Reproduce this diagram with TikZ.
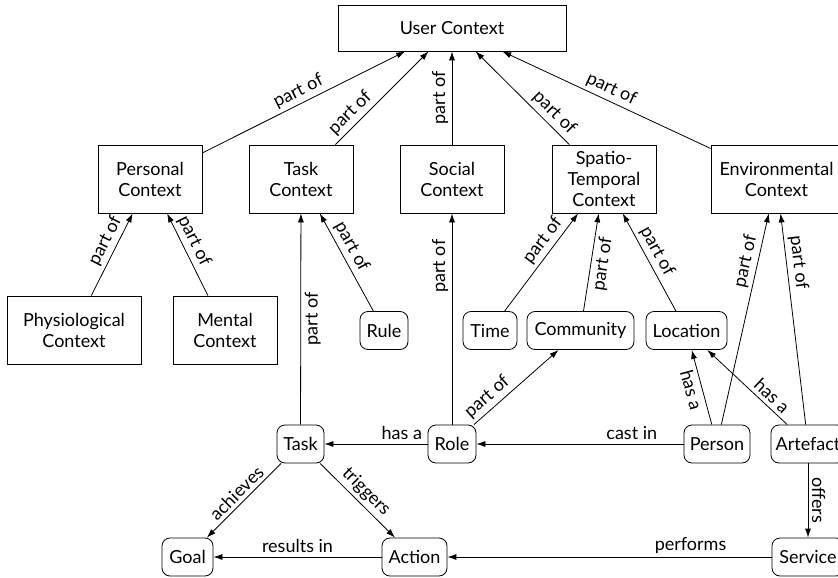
\documentclass[tikz,border=0pt]{standalone}
\usepackage{fontspec}
\setmainfont{Lato}
\usetikzlibrary{arrows.meta}
\begin{document}
\begin{tikzpicture}[x=1pt,y=-1pt,
  every node/.style={font=\fontsize{18}{21}\selectfont},
  ctx/.style={draw, rectangle, align=center, minimum height=68pt, inner sep=2pt, line width=0.8pt},
  ent/.style={draw, rounded corners=8pt, minimum height=38pt, inner sep=2pt, line width=0.8pt},
  rel/.style={-{Latex[length=9pt,width=6pt]}, line width=0.8pt},
  lab/.style={sloped, above, inner sep=3.5pt},
  labr/.style={sloped, below, inner sep=3.5pt}
]
\useasboundingbox (0,0) rectangle (838,578);
\clip (0,0) rectangle (838,578);
% context boxes
\node[ctx, minimum width=228pt, minimum height=46pt] (user) at (452,28) {User Context};
\node[ctx, minimum width=104pt] (pers) at (150,179) {Personal\\Context};
\node[ctx, minimum width=104pt] (taskc) at (301,179) {Task\\Context};
\node[ctx, minimum width=104pt] (soc) at (452,179) {Social\\Context};
\node[ctx, minimum width=104pt] (spat) at (604,179) {Spatio-\\Temporal\\Context};
\node[ctx, minimum width=131pt] (env) at (776.5,179) {Environmental\\Context};
\node[ctx, minimum width=134pt] (phys) at (74,330) {Physiological\\Context};
\node[ctx, minimum width=104pt] (ment) at (225,330) {Mental\\Context};
% entities
\node[ent, minimum width=48pt] (rule) at (384,330.5) {Rule};
\node[ent, minimum width=54pt] (time) at (490,330.5) {Time};
\node[ent, minimum width=107pt] (comm) at (580.5,330.5) {Community};
\node[ent, minimum width=81pt] (loc) at (686.5,330.5) {Location};
\node[ent, minimum width=47pt] (task) at (300.5,444) {Task};
\node[ent, minimum width=48pt] (role) at (452,444) {Role};
\node[ent, minimum width=66pt] (person) at (717,444) {Person};
\node[ent, minimum width=74pt] (art) at (808,444) {Artefact};
\node[ent, minimum width=51pt] (goal) at (187.5,557) {Goal};
\node[ent, minimum width=65pt] (act) at (414.5,557) {Action};
\node[ent, minimum width=72pt] (serv) at (808,557) {Service};
% relations
\draw[rel] (pers) -- node[lab]{part of} (user);
\draw[rel] (taskc) -- node[lab, pos=0.25]{part of} (user);
\draw[rel] (soc) -- node[lab]{part of} (user);
\draw[rel] (spat) -- node[lab, pos=0.25]{part of} (user);
\draw[rel] (env) -- node[lab]{part of} (user);
\draw[rel] (phys) -- node[lab, pos=0.6]{part of} (pers);
\draw[rel] (ment) -- node[lab, pos=0.6]{part of} (pers);
\draw[rel] (task) -- node[labr]{part of} (taskc);
\draw[rel] (rule) -- node[lab, pos=0.6]{part of} (taskc);
\draw[rel] (role) -- node[lab, pos=0.75]{part of} (soc);
\draw[rel] (time) -- node[lab, pos=0.65]{part of} (spat);
\draw[rel] (comm) -- node[labr]{part of} (spat);
\draw[rel] (loc) -- node[lab, pos=0.55]{part of} (spat);
\draw[rel] (person) -- node[lab, pos=0.76]{part of} (env);
\draw[rel] (art) -- node[lab, pos=0.76]{part of} (env);
\draw[rel] (role) -- node[lab, pos=0.25]{has a} (task);
\draw[rel] (person) -- node[lab, pos=0.25]{cast in} (role);
\draw[rel] (role) -- node[lab, pos=0.25]{part of} (comm);
\draw[rel] (person) -- node[labr]{has a} (loc);
\draw[rel] (art) -- node[lab, pos=0.28]{has a} (loc);
\draw[rel] (art) -- node[lab]{offers} (serv);
\draw[rel] (task) -- node[lab]{achieves} (goal);
\draw[rel] (task) -- node[lab]{triggers} (act);
\draw[rel] (act) -- node[lab]{results in} (goal);
\draw[rel] (serv) -- node[lab, pos=0.25]{performs} (act);
\end{tikzpicture}
\end{document}
